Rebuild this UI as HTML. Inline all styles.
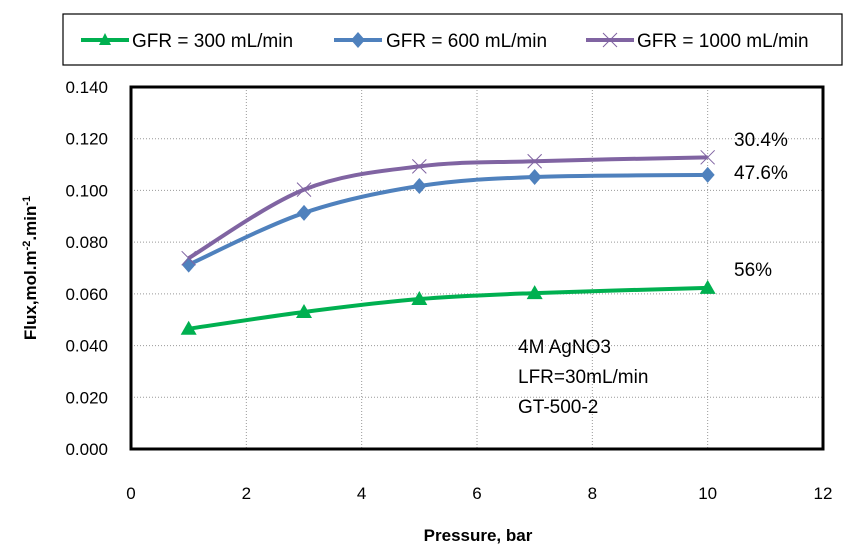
<!DOCTYPE html>
<html><head><meta charset="utf-8"><style>
body{margin:0;background:#fff}
svg{display:block;font-family:"Liberation Sans",sans-serif}
</style></head><body>
<svg width="849" height="553">
<g id="legend">
<rect x="63" y="14" width="779" height="51" fill="#fff" stroke="#000" stroke-width="1.2"/>
<g>
<line x1="81" y1="40" x2="129" y2="40" stroke="#00b050" stroke-width="4"/>
<polygon points="105,33 111,45 99,45" fill="#00b050"/>
<text x="132" y="47" font-size="19">GFR = 300 mL/min</text></g>
<g>
<line x1="334" y1="40" x2="382" y2="40" stroke="#4f81bd" stroke-width="4"/>
<polygon points="358,32 365,40 358,48 351,40" fill="#4f81bd"/>
<text x="386" y="47" font-size="19">GFR = 600 mL/min</text></g>
<g>
<line x1="586" y1="40" x2="634" y2="40" stroke="#8064a2" stroke-width="4"/>
<path d="M603,33 L617,47 M617,33 L603,47" stroke="#8064a2" stroke-width="1"/>
<text x="637" y="47" font-size="19">GFR = 1000 mL/min</text></g>
</g>
<g id="grid"></g>
<g id="axes"></g>
<g id="series"></g>
<rect x="131" y="87" width="692" height="362" fill="none" stroke="#000" stroke-width="3"/>
<g font-size="19">
<text x="734" y="146">30.4%</text>
<text x="734" y="179">47.6%</text>
<text x="734" y="276">56%</text>
<text x="518" y="353">4M AgNO3</text>
<text x="518" y="383">LFR=30mL/min</text>
<text x="518" y="413">GT-500-2</text>
</g>
<text x="478" y="541" font-size="17" font-weight="bold" text-anchor="middle">Pressure, bar</text>
<text transform="translate(36,268) rotate(-90)" font-size="17" font-weight="bold" text-anchor="middle">Flux,mol.m<tspan dy="-6" font-size="11">-2</tspan><tspan dy="6">.min</tspan><tspan dy="-6" font-size="11">-1</tspan></text>
</svg>
<script>
const pressures=[1,3,5,7,10];
const gfr300=[0.0465,0.0530,0.0580,0.0603,0.0623];
const gfr600=[0.0713,0.0913,0.1017,0.1052,0.1060];
const gfr1000=[0.0738,0.1003,0.1093,0.1113,0.1128];
const xTicks=[0,2,4,6,8,10,12];
const yTicks=[0,0.02,0.04,0.06,0.08,0.1,0.12,0.14];
const NS="http://www.w3.org/2000/svg";
const X=v=>131+v*(692/12);
const Y=v=>449-v*(362/0.14);
function mk(tag,attrs,parent){const e=document.createElementNS(NS,tag);for(const k in attrs)e.setAttribute(k,attrs[k]);parent.appendChild(e);return e;}
const grid=document.getElementById('grid'),axes=document.getElementById('axes'),ser=document.getElementById('series');
xTicks.forEach(t=>{
 if(t>0&&t<12){const l=mk('line',{x1:X(t),x2:X(t),y1:87,y2:449,stroke:'#999','stroke-dasharray':'1,2'},grid);
 
 }
 const tx=mk('text',{x:X(t),y:499,'font-size':17,'text-anchor':'middle'},axes);tx.textContent=t;
 
 
});
yTicks.forEach(t=>{
 if(t>0&&t<0.14){const l=mk('line',{x1:131,x2:823,y1:Y(t),y2:Y(t),stroke:'#999','stroke-dasharray':'1,2'},grid);
 
 }
 const tx=mk('text',{x:108,y:Y(t)+6,'font-size':17,'text-anchor':'end'},axes);tx.textContent=t.toFixed(3);
 
 
});
function smooth(pts){let d='M'+pts[0][0]+','+pts[0][1];
 for(let i=0;i<pts.length-1;i++){const p0=pts[i-1]||pts[i],p1=pts[i],p2=pts[i+1],p3=pts[i+2]||p2;
 const c1=[p1[0]+(p2[0]-p0[0])/6,p1[1]+(p2[1]-p0[1])/6],c2=[p2[0]-(p3[0]-p1[0])/6,p2[1]-(p3[1]-p1[1])/6];
 d+=' C'+c1+' '+c2+' '+p2;}return d;}
function series(vals,color,marker,name){
 const g=mk('g',{},ser);
 
 
 const pts=pressures.map((p,i)=>[X(p),Y(vals[i])]);
 mk('path',{d:smooth(pts),fill:'none',stroke:color,'stroke-width':4},g);
 pts.forEach(([x,y])=>{let m;
  if(marker==='tri')m=mk('polygon',{points:`${x},${y-8} ${x+8},${y+6} ${x-8},${y+6}`,fill:color},g);
  else if(marker==='dia')m=mk('polygon',{points:`${x},${y-8} ${x+7},${y} ${x},${y+8} ${x-7},${y}`,fill:color},g);
  else m=mk('path',{d:`M${x-7},${y-7}L${x+7},${y+7}M${x+7},${y-7}L${x-7},${y+7}`,stroke:color,'stroke-width':1},g);
  
  
 });
}
series(gfr300,'#00b050','tri','series-gfr-300');
series(gfr600,'#4f81bd','dia','series-gfr-600');
series(gfr1000,'#8064a2','x','series-gfr-1000');
</script>
</body></html>
